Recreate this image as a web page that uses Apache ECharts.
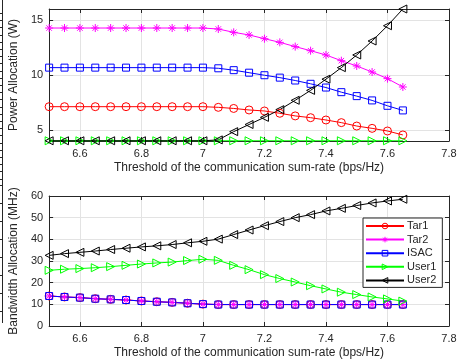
<!DOCTYPE html>
<html>
<head>
<meta charset="utf-8">
<script src="https://cdn.jsdelivr.net/npm/echarts@6/dist/echarts.min.js"></script>
<style>html,body{margin:0;padding:0;background:#fff}#c{width:464px;height:360px}</style>
</head>
<body>
<div id="c"></div>
<script>
// ---- data ----
var thresholds = [6.5, 6.55, 6.6, 6.65, 6.7, 6.75, 6.8, 6.85, 6.9, 6.95, 7.0, 7.05, 7.1, 7.15, 7.2, 7.25, 7.3, 7.35, 7.4, 7.45, 7.5, 7.55, 7.6, 7.65];
var xTicks = [6.6, 6.8, 7.0, 7.2, 7.4, 7.6, 7.8];
var powerTicks = [5, 10, 15];
var seriesNames = ['Tar1', 'Tar2', 'ISAC', 'User1', 'User2'];

// Power allocation (W)
var tar1Power  = [7.12, 7.12, 7.12, 7.12, 7.12, 7.12, 7.12, 7.12, 7.12, 7.12, 7.12, 7.06, 6.96, 6.82, 6.73, 6.52, 6.28, 6.12, 5.91, 5.67, 5.36, 5.15, 4.91, 4.55];
var tar2Power  = [14.27, 14.27, 14.27, 14.27, 14.27, 14.27, 14.27, 14.27, 14.27, 14.27, 14.27, 14.18, 13.88, 13.64, 13.30, 12.97, 12.58, 12.21, 11.82, 11.30, 10.82, 10.27, 9.67, 8.91];
var isacPower  = [10.67, 10.67, 10.67, 10.67, 10.67, 10.67, 10.67, 10.67, 10.67, 10.67, 10.67, 10.61, 10.44, 10.21, 9.98, 9.76, 9.50, 9.20, 8.86, 8.44, 8.08, 7.69, 7.20, 6.78];
var user1Power = [4.02, 4.02, 4.02, 4.02, 4.02, 4.02, 4.02, 4.02, 4.02, 4.02, 4.02, 4.02, 4.02, 4.02, 4.02, 4.02, 4.02, 4.02, 4.02, 4.02, 4.02, 4.02, 4.02, 4.02];
var user2Power = [4.02, 4.02, 4.02, 4.02, 4.02, 4.02, 4.02, 4.02, 4.02, 4.02, 4.02, 4.10, 4.85, 5.50, 6.15, 6.85, 7.70, 8.60, 9.62, 10.67, 11.82, 13.09, 14.48, 16.0];

// Bandwidth allocation (MHz)
var tar1Bw  = [13.85, 13.4, 13.1, 12.6, 12.3, 12.0, 11.55, 11.2, 10.9, 10.5, 10.1, 9.9, 9.9, 9.9, 9.9, 9.9, 9.9, 9.9, 9.9, 9.9, 9.9, 9.9, 9.9, 9.9];
var tar2Bw  = [13.85, 13.4, 13.1, 12.6, 12.3, 12.0, 11.55, 11.2, 10.9, 10.5, 10.1, 9.9, 9.9, 9.9, 9.9, 9.9, 9.9, 9.9, 9.9, 9.9, 9.9, 9.9, 9.9, 9.9];
var isacBw  = [13.85, 13.4, 13.1, 12.6, 12.3, 12.0, 11.55, 11.2, 10.9, 10.5, 10.1, 9.9, 9.9, 9.9, 9.9, 9.9, 9.9, 9.9, 9.9, 9.9, 9.9, 9.9, 9.9, 9.9];
var user1Bw = [25.7, 26.2, 26.5, 26.9, 27.4, 28.0, 28.6, 29.1, 29.5, 30.2, 30.8, 30.3, 28.0, 26.0, 23.7, 21.9, 20.3, 18.6, 17.1, 15.6, 14.5, 13.4, 12.5, 11.5];
var user2Bw = [32.6, 33.4, 34.0, 34.6, 35.3, 35.9, 36.5, 37.0, 37.6, 38.4, 39.1, 40.1, 42.2, 44.3, 46.3, 48.2, 50.0, 51.4, 53.1, 54.3, 55.6, 56.8, 57.7, 58.5];

// ---- chart ----
var FONT = 'Liberation Sans';
var AX = '#262626';
var GRIDC = '#e3e3e3';
var colors = ['#ff0000', '#ff00ff', '#0000ff', '#00ff00', '#000000'];
var symbols = ['circle', 'path://M5,0L5,10M0,5L10,5M1.6,1.6L8.4,8.4M1.6,8.4L8.4,1.6', 'rect', 'triangle', 'triangle'];
var symbolSizes = [8, 8, 7, 8, 8];
var symbolRotates = [0, 0, 0, -90, 90];

function pairs(xs, ys) { return xs.map(function (x, i) { return [x, ys[i]]; }); }

function mkSeries(idx, data, xi, yi) {
  return {
    type: 'line', name: seriesNames[idx], xAxisIndex: xi, yAxisIndex: yi,
    data: pairs(thresholds, data),
    symbol: symbols[idx], symbolSize: symbolSizes[idx], symbolRotate: symbolRotates[idx],
    showAllSymbol: true,
    lineStyle: { color: colors[idx], width: 1 },
    itemStyle: { color: 'rgba(0,0,0,0)', borderColor: colors[idx], borderWidth: 1 },
    emphasis: { disabled: true },
    silent: true
  };
}

function mainX(grid, name) {
  return {
    gridIndex: grid, type: 'value', min: 6.5, max: 7.8, position: 'bottom',
    axisLine: { show: true, onZero: false, lineStyle: { color: AX, width: 1 } },
    axisTick: { show: true, inside: true, length: 4, customValues: xTicks, lineStyle: { color: AX } },
    axisLabel: { show: true, customValues: xTicks, color: AX, fontFamily: FONT, fontSize: 11, margin: 7 },
    splitLine: { show: true, lineStyle: { color: GRIDC, width: 1 } },
    name: name, nameLocation: 'middle', nameGap: 21,
    nameTextStyle: { color: AX, fontFamily: FONT, fontSize: 12 }
  };
}
function mirrorX(grid) {
  return {
    gridIndex: grid, type: 'value', min: 6.5, max: 7.8, position: 'top',
    axisLine: { show: true, onZero: false, lineStyle: { color: AX, width: 1 } },
    axisTick: { show: true, inside: true, length: 4, customValues: xTicks, lineStyle: { color: AX } },
    axisLabel: { show: false }, splitLine: { show: false }
  };
}
function mainY(grid, opt, name) {
  var a = {
    gridIndex: grid, type: 'value', min: opt.min, max: opt.max, position: 'left',
    axisLine: { show: true, onZero: false, lineStyle: { color: AX, width: 1 } },
    axisTick: { show: true, inside: true, length: 4, lineStyle: { color: AX } },
    axisLabel: { show: true, color: AX, fontFamily: FONT, fontSize: 11, margin: 6 },
    splitLine: { show: true, lineStyle: { color: GRIDC, width: 1 } },
    name: name, nameLocation: 'middle', nameGap: opt.gap, nameRotate: 90,
    nameTextStyle: { color: AX, fontFamily: FONT, fontSize: 12 }
  };
  if (opt.ticks) { a.axisTick.customValues = opt.ticks; a.axisLabel.customValues = opt.ticks; }
  if (opt.interval) { a.interval = opt.interval; }
  return a;
}
function mirrorY(grid, opt) {
  var a = {
    gridIndex: grid, type: 'value', min: opt.min, max: opt.max, position: 'right',
    axisLine: { show: true, onZero: false, lineStyle: { color: AX, width: 1 } },
    axisTick: { show: true, inside: true, length: 4, lineStyle: { color: AX } },
    axisLabel: { show: false }, splitLine: { show: false }
  };
  if (opt.ticks) { a.axisTick.customValues = opt.ticks; }
  if (opt.interval) { a.interval = opt.interval; }
  return a;
}

var xName = 'Threshold of the communication sum-rate (bps/Hz)';
var topY = { min: 4, max: 16, ticks: powerTicks, gap: 14 };
var botY = { min: 0, max: 60, interval: 10, gap: 14 };

var leftDeco = [{ type: 'line', shape: { x1: 2.5, y1: 0, x2: 2.5, y2: 323 }, style: { stroke: AX, lineWidth: 1 } }];
for (var t = 13; t < 180; t += 7.2) {
  leftDeco.push({ type: 'line', shape: { x1: 0, y1: Math.round(t) + 0.5, x2: 2.5, y2: Math.round(t) + 0.5 }, style: { stroke: AX, lineWidth: 1 } });
}
for (var t2 = 185; t2 < 323; t2 += 18) {
  leftDeco.push({ type: 'line', shape: { x1: 0, y1: Math.round(t2) + 0.5, x2: 2.5, y2: Math.round(t2) + 0.5 }, style: { stroke: AX, lineWidth: 1 } });
}

var option = {
  animation: false,
  backgroundColor: '#ffffff',
  textStyle: { fontFamily: FONT },
  graphic: leftDeco,
  grid: [
    { left: 45, top: 9, width: 404, height: 132 },
    { left: 45, top: 196, width: 404, height: 130 }
  ],
  xAxis: [mainX(0, xName), mirrorX(0), mainX(1, xName), mirrorX(1)],
  yAxis: [mainY(0, topY, 'Power Allocation (W)'), mirrorY(0, topY), mainY(1, botY, 'Bandwidth Allocation (MHz)'), mirrorY(1, botY)],
  legend: {
    orient: 'vertical', left: 363, top: 218,
    data: seriesNames,
    itemWidth: 38, itemHeight: 7, itemGap: 1.6,
    padding: [2, 6, 1, 2],
    itemStyle: { color: 'rgba(0,0,0,0)', borderColor: 'inherit', borderWidth: 1 },
    backgroundColor: '#ffffff', borderColor: AX, borderWidth: 1, borderRadius: 0,
    textStyle: { color: AX, fontFamily: FONT, fontSize: 11, lineHeight: 12, padding: [0, 0, 0, -2] },
    selectedMode: false
  },
  series: [
    mkSeries(0, tar1Power, 0, 0), mkSeries(1, tar2Power, 0, 0), mkSeries(2, isacPower, 0, 0),
    mkSeries(3, user1Power, 0, 0), mkSeries(4, user2Power, 0, 0),
    mkSeries(0, tar1Bw, 2, 2), mkSeries(1, tar2Bw, 2, 2), mkSeries(2, isacBw, 2, 2),
    mkSeries(3, user1Bw, 2, 2), mkSeries(4, user2Bw, 2, 2)
  ]
};
var chart = echarts.init(document.getElementById('c'), null, { renderer: 'canvas' });
chart.setOption(option);
</script>
</body>
</html>
